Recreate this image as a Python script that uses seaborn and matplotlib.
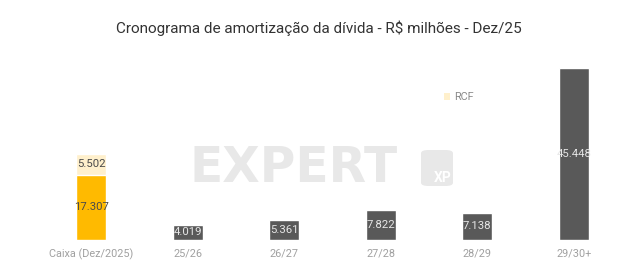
import matplotlib
matplotlib.use("Agg")
import matplotlib.pyplot as plt
import seaborn as sns
import pandas as pd
from matplotlib.patches import Patch, FancyBboxPatch

categories = ["Caixa (Dez/2025)", "25/26", "26/27", "27/28", "28/29", "29/30+"]
base_values = [17.307, 4.019, 5.361, 7.822, 7.138, 45.448]
rcf_values = [5.502, 0, 0, 0, 0, 0]

GOLD = "#FFBA00"
CREAM = "#FFF0CC"
DARK = "#595959"

sns.set_theme(style="white")
plt.rcParams["font.family"] = ["Roboto", "DejaVu Sans"]

df = pd.DataFrame({"cat": categories, "base": base_values, "rcf": rcf_values})
df["total"] = df["base"] + df["rcf"]

fig = plt.figure(figsize=(6.38, 2.74), dpi=100)
ax = fig.add_axes([43/638, 1-240/274, 579/638, 172/274])

sns.barplot(data=df, x="cat", y="total", color=CREAM, width=0.31, ax=ax,
            saturation=1)
sns.barplot(data=df, x="cat", y="base", hue="cat",
            palette=[GOLD] + [DARK]*5, width=0.31, ax=ax, legend=False,
            saturation=1)

ax.set_ylim(0, 45.448)
ax.set_xlim(-0.5, 5.5)
ax.set_xlabel("")
ax.set_ylabel("")
ax.set_yticks([])
for s in ax.spines.values():
    s.set_visible(False)
ax.tick_params(axis="x", length=0, pad=6, labelsize=7.8, labelcolor="#a0a0a0")

# value labels
for i, (b, r) in enumerate(zip(base_values, rcf_values)):
    col = "#4a4a4a" if i == 0 else "#e6e6e6"
    ax.text(i, b / 2, f"{b:.3f}", ha="center", va="center",
            fontsize=8.2, color=col)
    if r > 0:
        ax.text(i, b + r / 2, f"{r:.3f}", ha="center", va="center",
                fontsize=8.2, color="#4a4a4a")

# watermark
fig.text(190/638, 1-168/274, "EXPERT", fontsize=35, fontweight="bold",
         family="DejaVu Sans", color="#e8e8e8", ha="left", va="center",
         zorder=0)
box = FancyBboxPatch((421/638, 1-186/274), 32/638, 36/274,
                     boxstyle="round,pad=0,rounding_size=0.012",
                     transform=fig.transFigure, facecolor="#e8e8e8",
                     edgecolor="none", zorder=0)
fig.patches.append(box)
fig.text(443/638, 1-178/274, "XP", fontsize=10, fontweight="bold",
         color="white", ha="center", va="center", zorder=1)

leg = ax.legend(handles=[Patch(facecolor=CREAM, edgecolor="none", label="RCF")],
                loc="center left", bbox_to_anchor=(0.675, 0.83), frameon=False,
                fontsize=7.8, handlelength=0.6, handleheight=0.6,
                handletextpad=0.4, labelcolor="#8a8a8a")

fig.text(0.5, 1-28/274, "Cronograma de amortização da dívida - R$ milhões - Dez/25",
         ha="center", va="center", fontsize=11, color="#333333",
         fontweight="normal")

fig.savefig("out.png", dpi=100, facecolor="white")
